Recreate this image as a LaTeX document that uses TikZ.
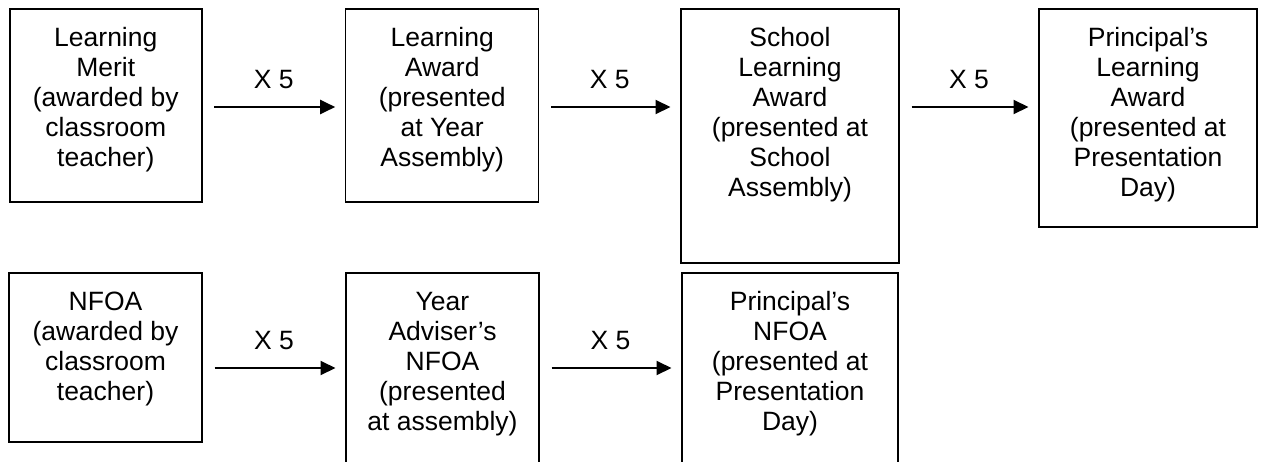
\documentclass[tikz,border=0pt]{standalone}
\usepackage{fontspec}
\setmainfont{Liberation Sans}
\usetikzlibrary{arrows.meta,positioning}

% top-aligned lines inside a box of fixed size
\newcommand{\awardlines}[3]{\parbox[t][#2][t]{#1}{\centering\rule{0pt}{37.5pt}#3}}

\tikzset{
  awardbox/.style={draw, line width=1.5pt, inner sep=0pt, outer sep=0pt, anchor=north west, font=\fontsize{26.5}{30}\selectfont},
  flow/.style={-{Triangle[length=15pt,width=14pt]}, line width=2pt, shorten <=12.5pt, shorten >=10.5pt},
  times/.style={midway, above=17pt, inner sep=0pt, font=\fontsize{26.5}{30}\selectfont}
}

\begin{document}
\begin{tikzpicture}[x=1pt, y=-1pt]
    \useasboundingbox (0,0) rectangle (1261,461);
    \clip (0,0) rectangle (1261,461);

    % Learning awards
    \node[awardbox] (merit) at (9.8,9) {\awardlines{192pt}{193pt}{Learning\\Merit\\(awarded by\\classroom\\teacher)}};
    \node[awardbox] (award) at (345.7,9) {\awardlines{193pt}{193pt}{Learning\\Award\\(presented\\at Year\\Assembly)}};
    \node[awardbox] (school) at (681,9) {\awardlines{218pt}{254pt}{School\\Learning\\Award\\(presented at\\School\\Assembly)}};
    \node[awardbox] (principal) at (1039,9) {\awardlines{218pt}{218pt}{Principal’s\\Learning\\Award\\(presented at\\Presentation\\Day)}};

    % NFOA awards
    \node[awardbox] (nfoa) at (9,273) {\awardlines{193pt}{169pt}{NFOA\\(awarded by\\classroom\\teacher)}};
    \node[awardbox] (adviser) at (346,273) {\awardlines{193pt}{254pt}{Year\\Adviser’s\\NFOA\\(presented\\at assembly)}};
    \node[awardbox] (pnfoa) at (682,273) {\awardlines{216pt}{254pt}{Principal’s\\NFOA\\(presented at\\Presentation\\Day)}};

    \coordinate (rowA) at (0,107);
    \coordinate (rowB) at (0,368);

    % Arrows
    \draw[flow] (merit.east |- rowA) -- node[times] {X 5} (award.west |- rowA);
    \draw[flow] (award.east |- rowA) -- node[times] {X 5} (school.west |- rowA);
    \draw[flow] (school.east |- rowA) -- node[times] {X 5} (principal.west |- rowA);
    \draw[flow] (nfoa.east |- rowB) -- node[times] {X 5} (adviser.west |- rowB);
    \draw[flow] (adviser.east |- rowB) -- node[times] {X 5} (pnfoa.west |- rowB);
\end{tikzpicture}
\end{document}
